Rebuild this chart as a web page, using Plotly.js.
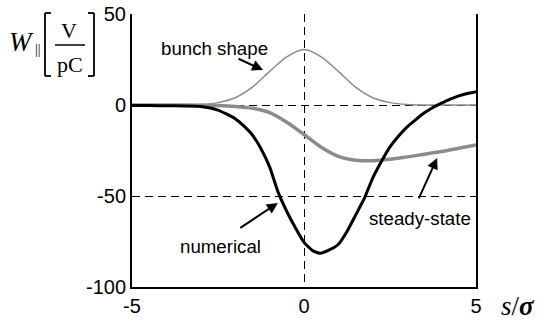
<!DOCTYPE html>
<html>
<head>
<meta charset="utf-8">
<script src="https://cdn.plot.ly/plotly-3.0.1.min.js"></script>
<style>
  html, body { margin: 0; padding: 0; background: #fff; }
  #chart { width: 546px; height: 330px; }
</style>
</head>
<body>
<div id="chart"></div>
<script>
// Longitudinal wake W_parallel versus s/sigma
const xTicks = [-5, 0, 5];
const xTickText = ['-5', '0', '5'];
const yTicks = [-100, -50, 0, 50];
const yTickText = ['-100', '-50', '0', '50'];

// bunch profile (scaled)
const bunchX = [-5, -4, -3, -2.5, -2, -1.5, -1, -0.5, 0, 0.5, 1, 1.5, 2, 2.5, 3, 4, 5];
const bunchY = [0, 0, 0.3, 1.3, 4, 9.8, 18.5, 26.5, 30.5, 26.5, 18.5, 9.8, 4, 1.3, 0.3, 0, 0];

// steady-state wake
const steadyX = [-5, -4, -3, -2.5, -2, -1.5, -1, -0.5, 0, 0.5, 1, 1.5, 2, 2.5, 3, 3.5, 4, 4.5, 5];
const steadyY = [0, 0, -0.1, -0.3, -0.8, -1.8, -4.2, -9.5, -16.2, -23.2, -28.2, -30.3, -30.6, -29.8, -28.5, -27.1, -25.6, -23.8, -22];

// numerical wake
const numX = [-5, -4.5, -4, -3.5, -3, -2.5, -2, -1.75, -1.5, -1.25, -1, -0.75, -0.5, -0.25, 0, 0.25, 0.47, 0.75, 1, 1.25, 1.5, 1.75, 2, 2.25, 2.5, 2.75, 3, 3.25, 3.5, 3.75, 4, 4.25, 4.5, 4.75, 5];
const numY = [-0.3, -0.3, -0.4, -0.5, -0.8, -2.8, -7.5, -11.5, -16.5, -24, -34, -48, -58.5, -67.5, -75.5, -80, -81.5, -79.5, -76.5, -69.5, -60.5, -51.5, -40, -31, -23, -17, -12, -8, -4.3, -1.4, 1, 3.2, 5, 6.3, 7.3];

const traces = [
  { x: bunchX, y: bunchY, mode: 'lines', line: { color: '#8c8c8c', width: 1.5, shape: 'spline', smoothing: 0.8 }, hoverinfo: 'skip' },
  { x: steadyX, y: steadyY, mode: 'lines', line: { color: '#8c8c8c', width: 3.5, shape: 'spline', smoothing: 0.8 }, hoverinfo: 'skip' },
  { x: numX, y: numY, mode: 'lines', line: { color: '#000000', width: 3, shape: 'spline', smoothing: 0.5 }, hoverinfo: 'skip' }
];

// plot box in page pixels
const L = 132, R = 476, T = 14, B = 287;
const px = v => (v - L) / (R - L);
const py = v => (B - v) / (B - T);

const sans = 'Liberation Sans, Arial, sans-serif';
const serif = 'Liberation Serif, Times New Roman, serif';

const textNote = (x, y, text) => ({ x, y, xref: 'x', yref: 'y', text, showarrow: false,
  font: { family: sans, size: 18.7, color: '#000' } });
const arrowNote = (x, y, ax, ay) => ({ x, y, xref: 'x', yref: 'y', text: '', showarrow: true,
  arrowhead: 2, arrowsize: 1.1, arrowwidth: 2, arrowcolor: '#000', ax, ay, standoff: 0 });
const paperNote = (x, y, text, size, extra) => Object.assign({ x: px(x), y: py(y), xref: 'paper', yref: 'paper',
  text, showarrow: false, xanchor: 'center', yanchor: 'middle',
  font: { family: serif, size, color: '#000' } }, extra || {});

const annotations = [
  textNote(-2.59, 31.3, 'bunch shape'),
  arrowNote(-1.19, 19.2, -26, -12),
  textNote(3.37, -62.6, 'steady-state'),
  arrowNote(3.87, -29.1, -19, 42),
  textNote(-2.44, -77.5, 'numerical'),
  arrowNote(-0.76, -53.8, -39, 26),
  // axis labels
  paperNote(21.5, 42, '<i>W</i>', 27, { borderpad: 0 }),
  paperNote(37.5, 49, '||', 14, { borderpad: 0 }),
  paperNote(68.5, 30, 'V', 22),
  paperNote(70, 64, 'pC', 22),
  paperNote(518, 306, '<i>s</i>/<b><i>σ</i></b>', 27)
];

const line = (x0, y0, x1, y1, w) => ({ type: 'line', xref: 'paper', yref: 'paper',
  x0: px(x0), y0: py(y0), x1: px(x1), y1: py(y1), line: { color: '#000', width: w } });

const shapes = [
  // left bracket
  line(45, 13, 45, 76, 1.8), line(45, 13, 51, 13, 1.8), line(45, 76, 51, 76, 1.8),
  // right bracket
  line(94, 13, 94, 76, 1.8), line(94, 13, 88, 13, 1.8), line(94, 76, 88, 76, 1.8),
  // fraction bar
  line(55, 45, 85, 45, 1.5)
];

const axisCommon = {
  showgrid: true, gridcolor: '#000', gridwidth: 1, griddash: '8px,5px',
  zeroline: false, showline: true, linecolor: '#000', linewidth: 2,
  ticks: '', tickfont: { family: sans, size: 20, color: '#000' }
};

const layout = {
  width: 546, height: 330,
  margin: { l: L, r: 546 - R, t: T, b: 330 - B, pad: 0 },
  paper_bgcolor: '#fff', plot_bgcolor: '#fff',
  showlegend: false,
  xaxis: Object.assign({}, axisCommon, { range: [-5, 5], tickvals: xTicks, ticktext: xTickText, mirror: false }),
  yaxis: Object.assign({}, axisCommon, { range: [-100, 50], tickvals: yTicks, ticktext: yTickText, mirror: true }),
  annotations, shapes
};

Plotly.newPlot('chart', traces, layout, { staticPlot: true, displayModeBar: false });
</script>
</body>
</html>
